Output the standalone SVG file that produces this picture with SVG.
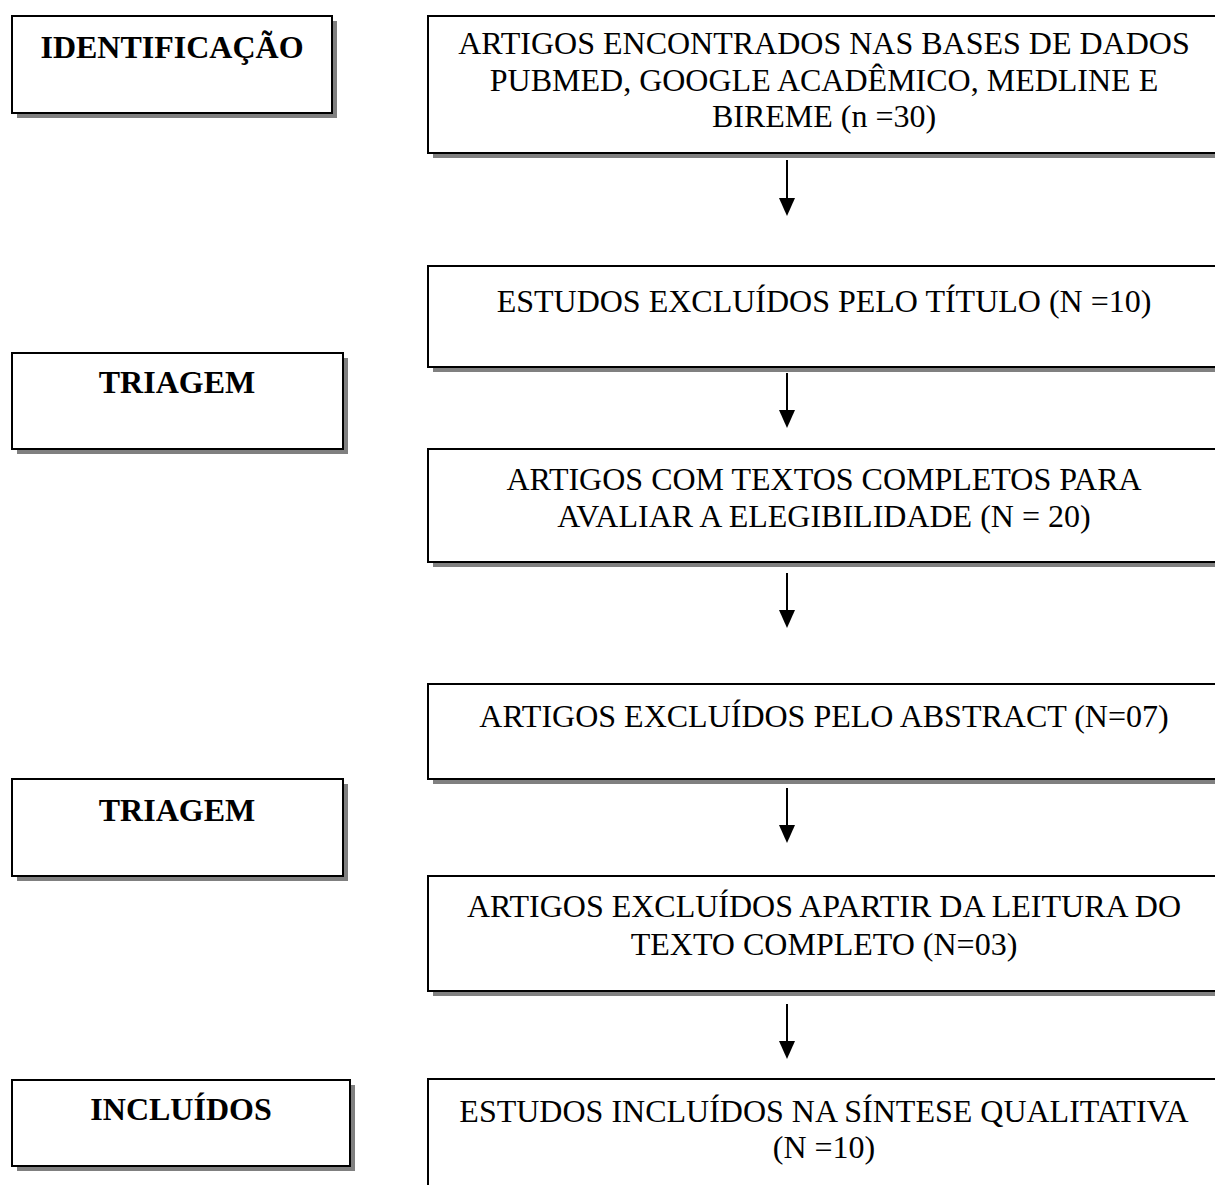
<svg xmlns="http://www.w3.org/2000/svg" width="1215" height="1185" viewBox="0 0 1215 1185">
<style>
.sh{fill:#808080}
.bx{fill:#fff;stroke:#000;stroke-width:2}
.lbl{font-family:"Liberation Serif","Times New Roman",serif;font-weight:bold;font-size:32px;fill:#000;text-anchor:middle}
.txt{font-family:"Liberation Serif","Times New Roman",serif;font-size:32px;fill:#000;text-anchor:middle}
.cn{stroke:#000;stroke-width:2;fill:none}
.hd{fill:#000}
</style>
<rect width="1215" height="1185" fill="#fff"/>

<g id="n-identificacao">
<rect class="sh" x="17" y="21" width="320" height="97"/>
<rect class="bx" x="12" y="16" width="320" height="97"/>
<text class="lbl" x="172" y="58">IDENTIFICAÇÃO</text>
</g>
<g id="n-triagem1">
<rect class="sh" x="17" y="358" width="331" height="96"/>
<rect class="bx" x="12" y="353" width="331" height="96"/>
<text class="lbl" x="177" y="393">TRIAGEM</text>
</g>
<g id="n-triagem2">
<rect class="sh" x="17" y="784" width="331" height="97"/>
<rect class="bx" x="12" y="779" width="331" height="97"/>
<text class="lbl" x="177" y="821">TRIAGEM</text>
</g>
<g id="n-incluidos">
<rect class="sh" x="17" y="1085" width="338" height="86"/>
<rect class="bx" x="12" y="1080" width="338" height="86"/>
<text class="lbl" x="181" y="1120">INCLUÍDOS</text>
</g>

<g id="n-encontrados">
<rect class="sh" x="433" y="21" width="800" height="137"/>
<rect class="bx" x="428" y="16" width="800" height="137"/>
<text class="txt" x="824" y="54">ARTIGOS ENCONTRADOS NAS BASES DE DADOS</text>
<text class="txt" x="824" y="91">PUBMED, GOOGLE ACADÊMICO, MEDLINE E</text>
<text class="txt" x="824" y="127">BIREME (n =30)</text>
</g>
<g id="n-titulo">
<rect class="sh" x="433" y="271" width="800" height="101"/>
<rect class="bx" x="428" y="266" width="800" height="101"/>
<text class="txt" x="824" y="312">ESTUDOS EXCLUÍDOS PELO TÍTULO (N =10)</text>
</g>
<g id="n-textos">
<rect class="sh" x="433" y="454" width="800" height="113"/>
<rect class="bx" x="428" y="449" width="800" height="113"/>
<text class="txt" x="824" y="490">ARTIGOS COM TEXTOS COMPLETOS PARA</text>
<text class="txt" x="824" y="527">AVALIAR A ELEGIBILIDADE (N = 20)</text>
</g>
<g id="n-abstract">
<rect class="sh" x="433" y="689" width="800" height="95"/>
<rect class="bx" x="428" y="684" width="800" height="95"/>
<text class="txt" x="824" y="727">ARTIGOS EXCLUÍDOS PELO ABSTRACT (N=07)</text>
</g>
<g id="n-leitura">
<rect class="sh" x="433" y="881" width="800" height="115"/>
<rect class="bx" x="428" y="876" width="800" height="115"/>
<text class="txt" x="824" y="917">ARTIGOS EXCLUÍDOS APARTIR DA LEITURA DO</text>
<text class="txt" x="824" y="955">TEXTO COMPLETO (N=03)</text>
</g>
<g id="n-sintese">
<rect class="sh" x="433" y="1084" width="800" height="130"/>
<rect class="bx" x="428" y="1079" width="800" height="130"/>
<text class="txt" x="824" y="1122">ESTUDOS INCLUÍDOS NA SÍNTESE QUALITATIVA</text>
<text class="txt" x="824" y="1158">(N =10)</text>
</g>

<g id="connectors">
<line class="cn" x1="787" y1="160" x2="787" y2="199"/>
<path class="hd" d="M779,198 L795,198 L787,216 Z"/>
<line class="cn" x1="787" y1="373" x2="787" y2="411"/>
<path class="hd" d="M779,410 L795,410 L787,428 Z"/>
<line class="cn" x1="787" y1="573" x2="787" y2="611"/>
<path class="hd" d="M779,610 L795,610 L787,628 Z"/>
<line class="cn" x1="787" y1="788" x2="787" y2="826"/>
<path class="hd" d="M779,825 L795,825 L787,843 Z"/>
<line class="cn" x1="787" y1="1004" x2="787" y2="1042"/>
<path class="hd" d="M779,1041 L795,1041 L787,1059 Z"/>
</g>
</svg>
